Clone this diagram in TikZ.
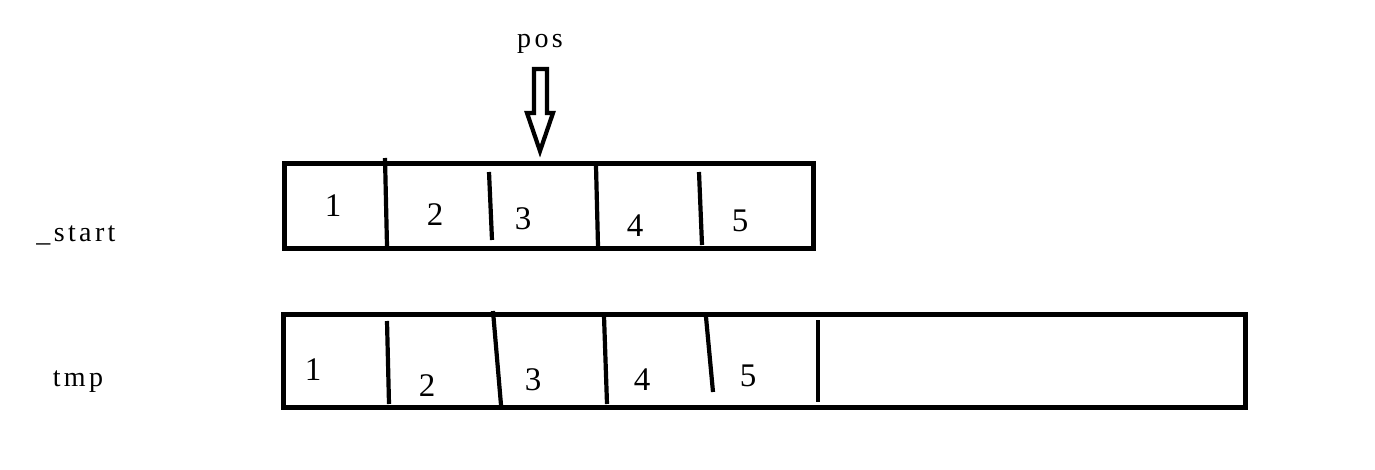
\documentclass[tikz,border=0pt]{standalone}
\usepackage{fontspec}
\setmainfont{Liberation Serif}
\newfontfamily\spacedfont[LetterSpace=12]{Liberation Serif}
\usetikzlibrary{calc,positioning}
\tikzset{
  line cap=round,
  line join=round,
  cellbox/.style={line width=5pt, line join=miter, line cap=butt},
  divider/.style={line width=4.2pt},
  hollowarrow/.style={line width=4.2pt, line join=miter},
  cellnum/.style={font=\fontsize{33}{36}\selectfont, inner sep=0pt},
  rowlabel/.style={font=\spacedfont\fontsize{28}{32}\selectfont, inner sep=0pt}
}
\begin{document}
\begin{tikzpicture}[x=1pt, y=-1pt]
	\useasboundingbox (0,0) rectangle (1375,470);

	% Draw the upper array (_start)
	\draw[cellbox] (284,164) rectangle (813,249);
	\draw[divider] (385,158) -- (387,246);
	\draw[divider] (489,172) -- (492,240);
	\draw[divider] (596,166) -- (598,246);
	\draw[divider] (699,172) -- (702,245);

	% Draw the lower array (tmp)
	\draw[cellbox] (283,314) rectangle (1245,407);
	\draw[divider] (387,321) -- (389,404);
	\draw[divider] (493,311) -- (501,405);
	\draw[divider] (604,316) -- (607,404);
	\draw[divider] (706,317) -- (713,392);
	\draw[divider] (818,320) -- (818,402);

	% Add cell numbers
	\node[cellnum] (s1) at (333,206) {1};
	\node[cellnum] (s2) at (435,215) {2};
	\node[cellnum] (s3) at (523,219) {3};
	\node[cellnum] (s4) at (635,226) {4};
	\node[cellnum] (s5) at (740,221) {5};

	\node[cellnum] (t1) at (313,370) {1};
	\node[cellnum] (t2) at (427,386) {2};
	\node[cellnum] (t3) at (533,380) {3};
	\node[cellnum] (t4) at (642,380) {4};
	\node[cellnum] (t5) at (748,376) {5};

	% Add row labels
	\node[rowlabel] (start) at (76,235) {\_start};
	\node[rowlabel] (tmp) at (78,382) {tmp};

	% The pos pointer
	\node[rowlabel] (pos) at (540,44) {pos};
	\draw[hollowarrow] (534,69) -- (547,69) -- (547,113) -- (553,113)
		-- (540,151) -- (527,113) -- (534,113) -- cycle;
\end{tikzpicture}
\end{document}
